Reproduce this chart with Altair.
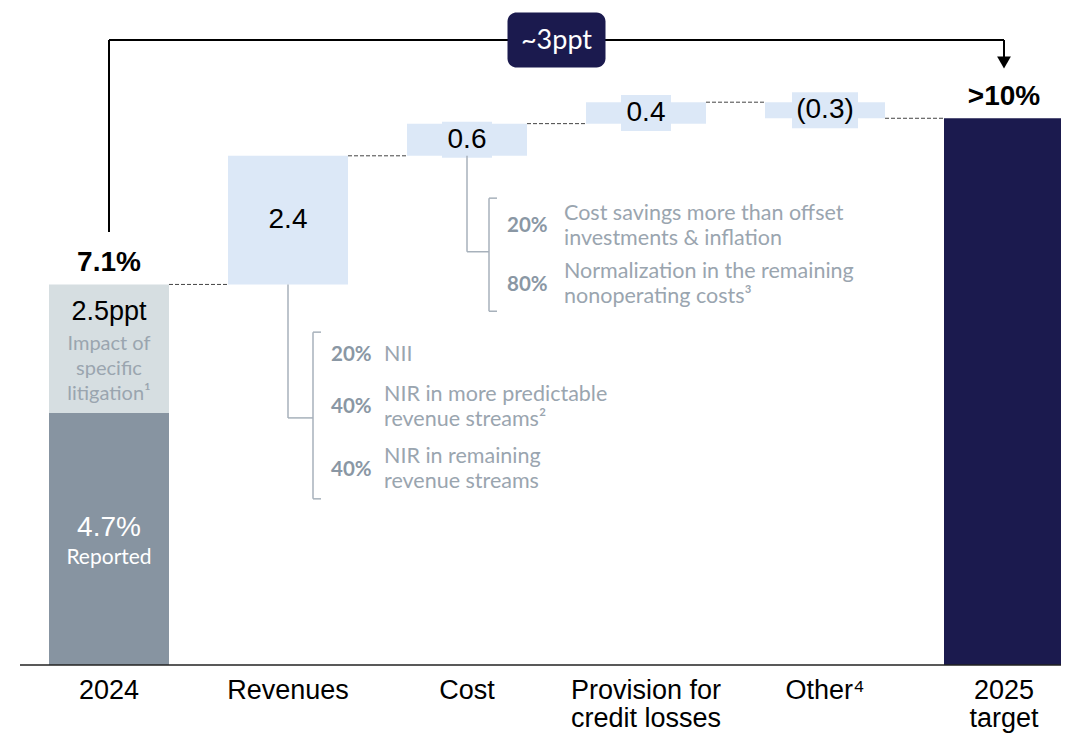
import altair as alt
import pandas as pd

# ---------------- data ----------------
categories = ["2024", "Revenues", "Cost", "Provision for credit losses", "Other⁴", "2025 target"]
axis_labels = ["2024", "Revenues", "Cost", "Provision for\ncredit losses", "Other⁴", "2025\ntarget"]
start_value = 7.1          # 2024 adjusted
reported_value = 4.7       # 2024 reported
changes = [2.4, 0.6, 0.4, -0.3]   # Revenues, Cost, Provision, Other
value_labels = ["7.1%", "2.4", "0.6", "0.4", "(0.3)", ">10%"]
litigation_label = "2.5ppt"
litigation_note = "Impact of\nspecific\nlitigation¹"
reported_label = "4.7%"
reported_note = "Reported"
bracket_label = "~3ppt"
revenue_pcts = ["20%", "40%", "40%"]
revenue_notes = ["NII", "NIR in more predictable\nrevenue streams²", "NIR in remaining\nrevenue streams"]
cost_pcts = ["20%", "80%"]
cost_notes = ["Cost savings more than offset\ninvestments & inflation",
              "Normalization in the remaining\nnonoperating costs³"]

# ---------------- layout / style ----------------
W, H, PB = 1053, 657, 70
XU, YU = 179.0, 53.6            # px per x unit, px per y unit
HW = 60 / XU                    # half bar width in x units
MAIN = "Liberation Sans"
NOTE = "Lato"
C_REP, C_LIT, C_STEP, C_TGT = "#8794A1", "#D6DEE1", "#DCE8F7", "#1B1A4E"
C_GREY_TXT, C_GREY_PCT, C_GREY_LINE = "#9AA5AF", "#8A97A4", "#A7B1BB"

xs = alt.Scale(domain=[-101 / XU, (W - 101) / XU], nice=False, zero=False, padding=0)
ys = alt.Scale(domain=[0, H / YU], nice=False, zero=False, padding=0)

# ---------------- derived tables ----------------
rows = [
    dict(idx=0, x0=-HW, x1=HW, y0=0, y1=reported_value, kind="reported"),
    dict(idx=0, x0=-HW, x1=HW, y0=reported_value, y1=start_value, kind="litigation"),
]
level = start_value
ends = [start_value]
for i, d in enumerate(changes, start=1):
    rows.append(dict(idx=i, x0=i - HW, x1=i + HW, y0=level, y1=level + d, kind="step"))
    level = round(level + d, 4)
    ends.append(level)
n = len(categories) - 1
rows.append(dict(idx=n, x0=n - HW, x1=n + HW, y0=0, y1=level, kind="target"))
bars = pd.DataFrame(rows)

steps = bars[bars.kind == "step"].copy()
steps["ymid"] = (steps.y0 + steps.y1) / 2
steps["label"] = value_labels[1:1 + len(changes)]
steps["thin"] = (steps.y1 - steps.y0).abs() * YU < 36
steps["boxw"] = steps.label.str.len() * 8 + 26
steps["by0"] = steps.ymid - 18 / YU
steps["by1"] = steps.ymid + 18 / YU

totals = pd.DataFrame(dict(x=[0, n], y=[start_value, level], label=[value_labels[0], value_labels[-1]]))
axis_df = pd.DataFrame(dict(x=list(range(len(categories))), y=0.0, label=axis_labels))

conn = pd.DataFrame(dict(x0=[i + HW for i in range(len(ends))],
                         x1=[i + 1 - HW for i in range(len(ends))],
                         y=ends))

# top bracket
b_top = H / YU - 32 / YU
b_low = start_value + 0.98
bracket = pd.DataFrame(dict(x0=[0, 0, n], x1=[0, n, n], y0=[b_low, b_top, 11.34], y1=[b_top, b_top, b_top]))
arrow = pd.DataFrame(dict(x=[n], y=[11.24]))
bmid = n / 2
bbox = pd.DataFrame(dict(x0=[bmid - 49 / XU], x1=[bmid + 49 / XU], y0=[b_top - 27.5 / YU],
                         y1=[b_top + 27.5 / YU], xm=[bmid], ym=[b_top], label=[bracket_label]))

# call-outs
def callout(idx, stem_top, stem_low, bx_px, centers, btop, blow, pcts, notes):
    bx = idx + bx_px / XU
    tick = 8 / XU
    lines = pd.DataFrame(dict(
        x0=[idx, idx, bx, bx, bx], x1=[idx, bx, bx, bx + tick, bx + tick],
        y0=[stem_top, stem_low, btop, btop, blow], y1=[stem_low, stem_low, blow, btop, blow]))
    nl = [t.count("\n") for t in notes]
    texts = pd.DataFrame(dict(x=[bx] * len(pcts), y=centers, pct=pcts, note=notes,
                              ynote=[c + k * 12.5 / YU for c, k in zip(centers, nl)]))
    return lines, texts

cost_lines, cost_txt = callout(2, ends[1], 7.71, 22, [8.19, 7.09], 8.71, 6.60, cost_pcts, cost_notes)
rev_lines, rev_txt = callout(1, start_value, 4.61, 25, [5.78, 4.81, 3.64], 6.21, 3.10, revenue_pcts, revenue_notes)
co_lines = pd.concat([cost_lines, rev_lines])
co_txt = pd.concat([cost_txt, rev_txt])

first = pd.DataFrame(dict(x=[0], top=[start_value], rmid=[reported_value / 2]))

# ---------------- layers ----------------
X = lambda f: alt.X(f, scale=xs, axis=None)
Y = lambda f: alt.Y(f, scale=ys, axis=None)

bar_layer = alt.Chart(bars).mark_bar().encode(
    x=X("x0:Q"), x2="x1:Q", y=Y("y0:Q"), y2="y1:Q",
    color=alt.Color("kind:N", legend=None,
                    scale=alt.Scale(domain=["reported", "litigation", "step", "target"],
                                    range=[C_REP, C_LIT, C_STEP, C_TGT])),
)

baseline = alt.Chart(pd.DataFrame(dict(y=[0]))).mark_rule(color="#222", strokeWidth=1.5).encode(
    x=alt.value(12), x2=alt.value(W), y=Y("y:Q"))

axis_text = alt.Chart(axis_df).mark_text(font=MAIN, fontSize=27, color="#000", baseline="top",
                                         dy=13, lineBreak="\n", lineHeight=28).encode(
    x=X("x:Q"), y=Y("y:Q"), text="label:N")

conn_layer = alt.Chart(conn).mark_rule(color="#444", strokeWidth=1, strokeDash=[4, 2]).encode(
    x=X("x0:Q"), x2="x1:Q", y=Y("y:Q"))

box_layer = alt.Chart(steps[steps.thin]).mark_bar(color=C_STEP).encode(
    x=X("idx:Q"), y=Y("by0:Q"), y2="by1:Q", size=alt.Size("boxw:Q", scale=None, legend=None))

mid_text = alt.Chart(steps).mark_text(font=MAIN, fontSize=28, color="#000", baseline="middle").encode(
    x=X("idx:Q"), y=Y("ymid:Q"), text="label:N")

tot_text = alt.Chart(totals).mark_text(font=MAIN, fontSize=28, fontWeight="bold", color="#000",
                                       baseline="alphabetic", dy=-13).encode(
    x=X("x:Q"), y=Y("y:Q"), text="label:N")

lit_text = alt.Chart(first).mark_text(font=MAIN, fontSize=27, color="#000", baseline="alphabetic",
                                      dy=36).encode(x=X("x:Q"), y=Y("top:Q"), text=alt.value(litigation_label))
lit_note = alt.Chart(first).mark_text(font=NOTE, fontSize=20, color=C_GREY_TXT, baseline="top",
                                      lineBreak="\n", lineHeight=25, dy=50).encode(
    x=X("x:Q"), y=Y("top:Q"), text=alt.value(litigation_note))
rep_text = alt.Chart(first).mark_text(font=MAIN, fontSize=28, color="#fff", baseline="middle",
                                      dy=-11).encode(x=X("x:Q"), y=Y("rmid:Q"), text=alt.value(reported_label))
rep_note = alt.Chart(first).mark_text(font=NOTE, fontSize=21, color="#fff", baseline="middle",
                                      dy=19).encode(x=X("x:Q"), y=Y("rmid:Q"), text=alt.value(reported_note))

br_lines = alt.Chart(bracket).mark_rule(color="#000", strokeWidth=2).encode(
    x=X("x0:Q"), x2="x1:Q", y=Y("y0:Q"), y2="y1:Q")
br_arrow = alt.Chart(arrow).mark_point(shape="triangle-down", filled=True, size=190, color="#000",
                                       opacity=1).encode(x=X("x:Q"), y=Y("y:Q"))
br_box = alt.Chart(bbox).mark_bar(color=C_TGT, cornerRadius=9).encode(
    x=X("x0:Q"), x2="x1:Q", y=Y("y0:Q"), y2="y1:Q")
br_text = alt.Chart(bbox).mark_text(font=NOTE, fontSize=27, color="#fff", baseline="middle", dy=1).encode(
    x=X("xm:Q"), y=Y("ym:Q"), text="label:N")

co_line_layer = alt.Chart(co_lines).mark_rule(color=C_GREY_LINE, strokeWidth=1.5).encode(
    x=X("x0:Q"), x2="x1:Q", y=Y("y0:Q"), y2="y1:Q")
co_pct = alt.Chart(co_txt).mark_text(font=NOTE, fontSize=20.5, fontWeight="bold", color=C_GREY_PCT,
                                     align="left", baseline="middle", dx=18).encode(
    x=X("x:Q"), y=Y("y:Q"), text="pct:N")
co_note_c = alt.Chart(cost_txt).mark_text(font=NOTE, fontSize=21.5, color=C_GREY_TXT, align="left",
                                          baseline="middle", lineBreak="\n", lineHeight=25, dx=75).encode(
    x=X("x:Q"), y=Y("ynote:Q"), text="note:N")
co_note_r = alt.Chart(rev_txt).mark_text(font=NOTE, fontSize=21.5, color=C_GREY_TXT, align="left",
                                         baseline="middle", lineBreak="\n", lineHeight=25, dx=71).encode(
    x=X("x:Q"), y=Y("ynote:Q"), text="note:N")

chart = alt.layer(
    bar_layer, baseline, axis_text, conn_layer, box_layer, mid_text, tot_text, lit_text, lit_note,
    rep_text, rep_note, br_lines, br_arrow, br_box, br_text, co_line_layer, co_pct, co_note_c, co_note_r,
).properties(
    width=W, height=H, autosize=alt.AutoSizeParams(type="none"),
    padding={"left": 0, "top": 0, "right": 0, "bottom": PB}, background="#ffffff",
).configure_view(stroke=None)

chart.save("out.html", embed_options={"renderer": "svg", "actions": False})
